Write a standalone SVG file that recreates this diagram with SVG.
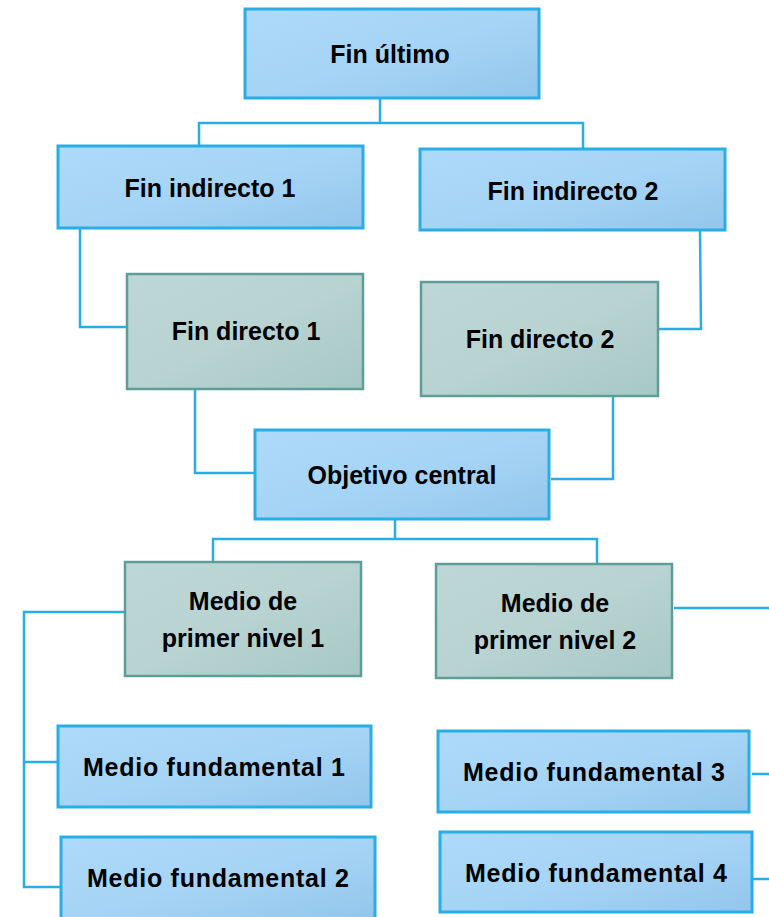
<svg xmlns="http://www.w3.org/2000/svg" width="769" height="917" viewBox="0 0 769 917">
<defs>
<linearGradient id="gb" x1="0" y1="0" x2="1" y2="1">
<stop offset="0" stop-color="#ADDAF9"/>
<stop offset="0.5" stop-color="#A6D4F5"/>
<stop offset="1" stop-color="#93C6EC"/>
</linearGradient>
<linearGradient id="gg" x1="0" y1="0" x2="1" y2="1">
<stop offset="0" stop-color="#BDD7D5"/>
<stop offset="0.5" stop-color="#B8D3D1"/>
<stop offset="1" stop-color="#A7C8C5"/>
</linearGradient>
</defs>
<style>
.b{fill:url(#gb);stroke:#27AEE6;stroke-width:3}
.g{fill:url(#gg);stroke:#5E9D98;stroke-width:2.5}
.t{font-family:"Liberation Sans",Arial,sans-serif;font-weight:bold;font-size:25px;fill:#000;text-anchor:middle}
.c{fill:none;stroke:#27AEE6;stroke-width:2.5}
</style>
<g id="connectors">
<polyline class="c" points="380,98 380,123"/>
<polyline class="c" points="199,146 199,123 583,123 583,149"/>
<polyline class="c" points="80,228 80,327 127,327"/>
<polyline class="c" points="700,230 701,329 658,329"/>
<polyline class="c" points="195,389 195,473 255,473"/>
<polyline class="c" points="613,396 613,479 551,479"/>
<polyline class="c" points="395,519 395,538"/>
<polyline class="c" points="213,562 213,539 597,539 597,564"/>
<polyline class="c" points="125,612 24,612 24,887 61,887"/>
<polyline class="c" points="24,762 58,762"/>
<polyline class="c" points="674,608 769,608"/>
<polyline class="c" points="752,774 769,774"/>
<polyline class="c" points="752,879 769,879"/>
</g>
<g id="fin-ultimo"><rect class="b" x="245" y="9" width="294" height="89"/><text class="t" x="390" y="63">Fin último</text></g>
<g id="fin-indirecto-1"><rect class="b" x="58" y="146" width="305" height="82"/><text class="t" x="210" y="197">Fin indirecto 1</text></g>
<g id="fin-indirecto-2"><rect class="b" x="420" y="149" width="305" height="81"/><text class="t" x="573" y="200">Fin indirecto 2</text></g>
<g id="fin-directo-1"><rect class="g" x="127" y="274" width="236" height="115"/><text class="t" x="246" y="340">Fin directo 1</text></g>
<g id="fin-directo-2"><rect class="g" x="421" y="282" width="237" height="114"/><text class="t" x="540" y="348">Fin directo 2</text></g>
<g id="objetivo-central"><rect class="b" x="255" y="430" width="294" height="89"/><text class="t" x="402" y="484">Objetivo central</text></g>
<g id="medio-primer-nivel-1"><rect class="g" x="125" y="562" width="236" height="114"/><text class="t" x="243" y="610">Medio de</text><text class="t" x="243" y="647">primer nivel 1</text></g>
<g id="medio-primer-nivel-2"><rect class="g" x="436" y="564" width="236" height="114"/><text class="t" x="555" y="612">Medio de</text><text class="t" x="555" y="649">primer nivel 2</text></g>
<g id="medio-fundamental-1"><rect class="b" x="58" y="726" width="313" height="81"/><text class="t" x="214" y="776" textLength="262" lengthAdjust="spacing">Medio fundamental 1</text></g>
<g id="medio-fundamental-2"><rect class="b" x="61" y="837" width="314" height="82"/><text class="t" x="218" y="887" textLength="262" lengthAdjust="spacing">Medio fundamental 2</text></g>
<g id="medio-fundamental-3"><rect class="b" x="438" y="731" width="311" height="81"/><text class="t" x="594" y="781" textLength="262" lengthAdjust="spacing">Medio fundamental 3</text></g>
<g id="medio-fundamental-4"><rect class="b" x="440" y="832" width="312" height="80"/><text class="t" x="596" y="882" textLength="262" lengthAdjust="spacing">Medio fundamental 4</text></g>
</svg>
